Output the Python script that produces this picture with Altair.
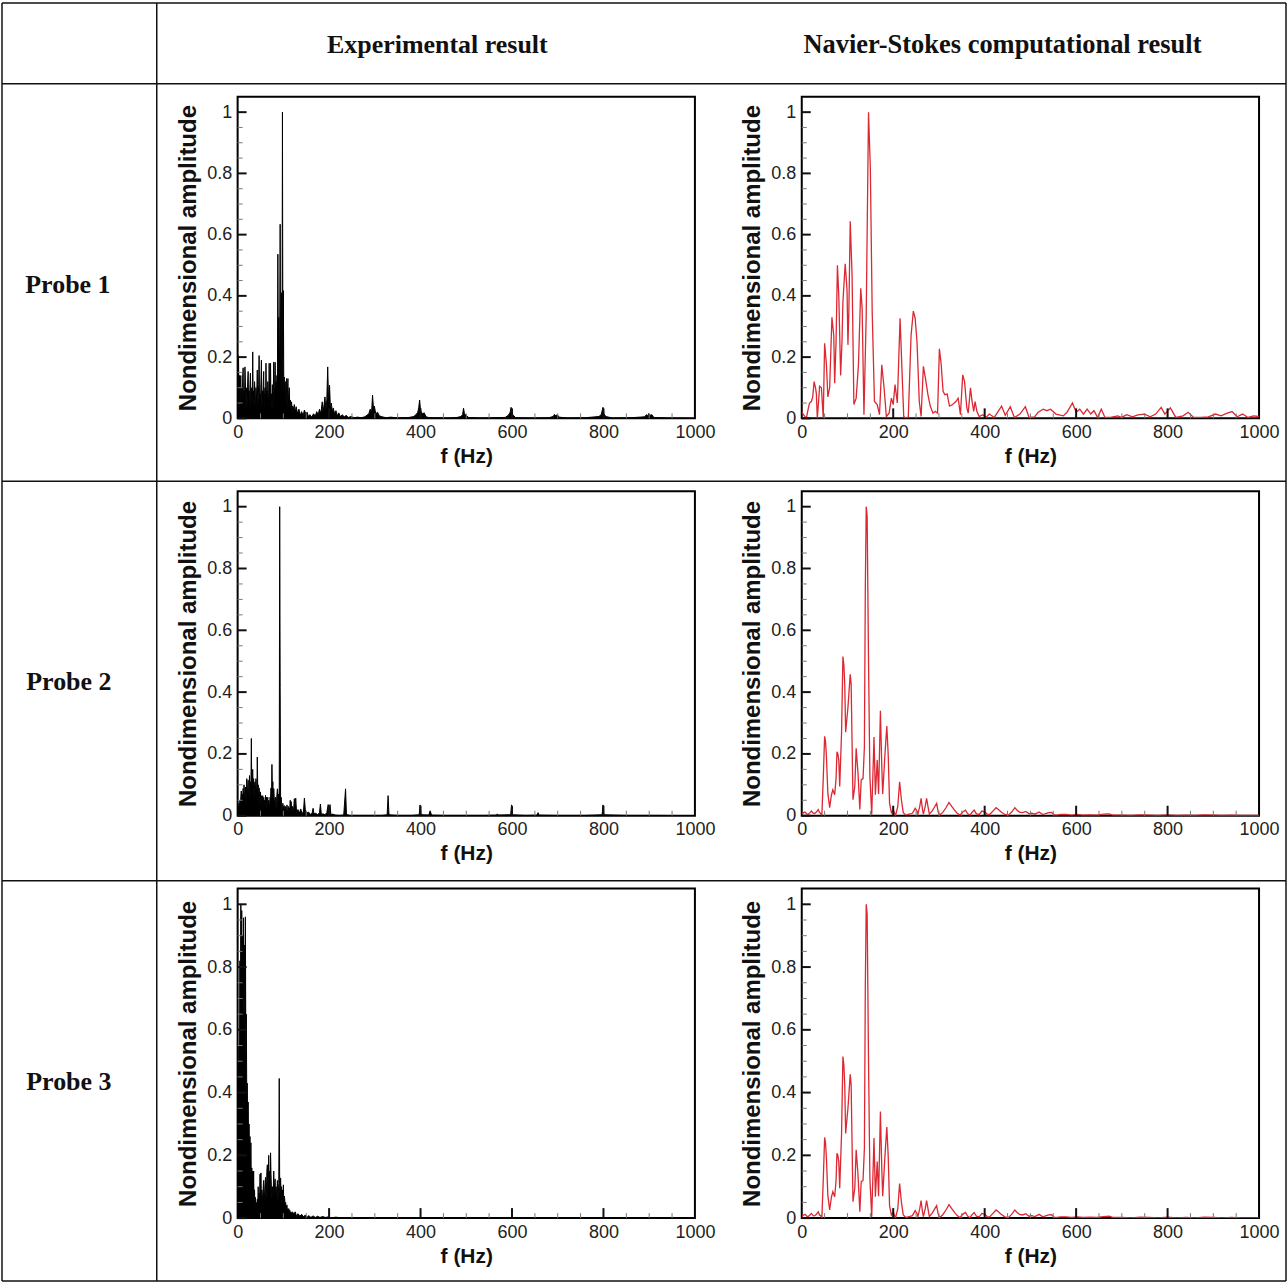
import altair as alt
import pandas as pd

# ---------------- data ----------------
ROW_LABELS = ["Probe 1", "Probe 2", "Probe 3"]
COL_LABELS = ["Experimental result", "Navier-Stokes computational result"]

X_MAJOR = [0, 200, 400, 600, 800, 1000]
X_MINOR = [50, 100, 150, 250, 300, 350, 450, 500, 550, 650, 700, 750, 850, 900, 950]
Y_MAJOR = [0, 0.2, 0.4, 0.6, 0.8, 1.0]
Y_MINOR = [0.05, 0.1, 0.15, 0.25, 0.3, 0.35, 0.45, 0.5, 0.55, 0.65, 0.7, 0.75, 0.85, 0.9, 0.95]

# experimental spectra: amplitudes on a 1 Hz grid from 0 to 120 Hz ...
P1_EXP_LOW = [0.02, 0.12, 0.205, 0.05, 0.14, 0.03, 0.11, 0.14, 0.04, 0.10,
              0.06, 0.13, 0.165, 0.03, 0.09, 0.05, 0.168, 0.12, 0.02, 0.08,
              0.10, 0.03, 0.12, 0.153, 0.05, 0.09, 0.02, 0.11, 0.148, 0.04,
              0.07, 0.10, 0.05, 0.217, 0.06, 0.09, 0.03, 0.12, 0.08, 0.02,
              0.10, 0.06, 0.09, 0.158, 0.03, 0.07, 0.11, 0.205, 0.04, 0.08,
              0.05, 0.12, 0.19, 0.03, 0.09, 0.06, 0.11, 0.153, 0.02, 0.08,
              0.10, 0.04, 0.18, 0.06, 0.09, 0.03, 0.12, 0.07, 0.04, 0.18,
              0.05, 0.10, 0.18, 0.03, 0.08, 0.05, 0.11, 0.02, 0.09, 0.184,
              0.04, 0.10, 0.183, 0.06, 0.12, 0.08, 0.14, 0.10, 0.536, 0.15,
              0.33, 0.12, 0.25, 0.634, 0.10, 0.30, 0.41, 0.06, 1.0, 0.20,
              0.417, 0.08, 0.135, 0.05, 0.12, 0.04, 0.10, 0.13, 0.03, 0.09,
              0.13, 0.04, 0.08, 0.10, 0.03, 0.06, 0.05, 0.02, 0.054, 0.02, 0.04]
# ... and (f, amplitude) points above 120 Hz
P1_EXP_TAIL = [(122, 0.03), (124, 0.045), (126, 0.02), (128, 0.038), (131, 0.015), (134, 0.03),
               (137, 0.01), (140, 0.022), (143, 0.008), (146, 0.027), (149, 0.015), (152, 0.02),
               (155, 0.005), (158, 0.012), (162, 0.004), (166, 0.015), (170, 0.008), (173, 0.022),
               (176, 0.01), (179, 0.03), (182, 0.015), (185, 0.054), (187, 0.02), (189, 0.045),
               (191, 0.07), (193, 0.03), (195, 0.06), (197, 0.168), (199, 0.05), (201, 0.108),
               (203, 0.03), (205, 0.05), (207, 0.02), (209, 0.034), (212, 0.015), (215, 0.025),
               (218, 0.008), (221, 0.018), (225, 0.005), (229, 0.012), (233, 0.004), (237, 0.01),
               (242, 0.003), (248, 0.006), (255, 0.002), (262, 0.004), (270, 0.002), (278, 0.005),
               (283, 0.01), (287, 0.016), (290, 0.03), (293, 0.02), (295, 0.076), (297, 0.035),
               (299, 0.04), (302, 0.015), (306, 0.02), (310, 0.008), (316, 0.005), (325, 0.002),
               (335, 0.004), (345, 0.002), (360, 0.002), (375, 0.003), (385, 0.006), (390, 0.012),
               (394, 0.02), (396, 0.035), (398, 0.06), (400, 0.025), (402, 0.02), (405, 0.015),
               (408, 0.018), (412, 0.005), (420, 0.002), (440, 0.002), (460, 0.001), (480, 0.003),
               (488, 0.006), (492, 0.012), (494, 0.033), (496, 0.015), (500, 0.01), (505, 0.003),
               (530, 0.001), (560, 0.002), (585, 0.003), (592, 0.01), (596, 0.02), (598, 0.036),
               (600, 0.015), (603, 0.01), (608, 0.002), (640, 0.001), (680, 0.002), (690, 0.006),
               (693, 0.013), (696, 0.008), (699, 0.012), (703, 0.004), (720, 0.001), (760, 0.002),
               (790, 0.006), (795, 0.012), (799, 0.036), (801, 0.015), (805, 0.006), (820, 0.001),
               (860, 0.002), (890, 0.005), (894, 0.012), (897, 0.008), (899, 0.016), (903, 0.01),
               (906, 0.012), (910, 0.003), (940, 0.001), (970, 0.001), (1000, 0.0)]

P2_EXP_LOW = [0.01, 0.03, 0.015, 0.04, 0.02, 0.05, 0.03, 0.06, 0.08, 0.03,
              0.07, 0.04, 0.088, 0.05, 0.10, 0.04, 0.07, 0.093, 0.03, 0.08,
              0.12, 0.05, 0.09, 0.115, 0.04, 0.10, 0.13, 0.06, 0.11, 0.08,
              0.25, 0.07, 0.13, 0.15, 0.09, 0.12, 0.05, 0.10, 0.11, 0.06,
              0.12, 0.09, 0.05, 0.19, 0.08, 0.10, 0.04, 0.09, 0.06, 0.03,
              0.077, 0.04, 0.065, 0.03, 0.06, 0.065, 0.02, 0.06, 0.04, 0.05,
              0.03, 0.066, 0.04, 0.06, 0.02, 0.05, 0.06, 0.03, 0.05, 0.02,
              0.04, 0.06, 0.05, 0.09, 0.03, 0.166, 0.08, 0.11, 0.04, 0.088,
              0.06, 0.03, 0.05, 0.06, 0.02, 0.045, 0.07, 0.087, 0.03, 0.07,
              0.05, 0.09, 1.0, 0.415, 0.03, 0.06, 0.044, 0.02, 0.03, 0.04,
              0.015, 0.03, 0.033, 0.01, 0.025, 0.03, 0.012, 0.02, 0.035, 0.01,
              0.02, 0.03, 0.01, 0.025, 0.02, 0.05, 0.01, 0.046, 0.02, 0.015, 0.03]
P2_EXP_TAIL = [(122, 0.01), (124, 0.055), (126, 0.015), (127, 0.057), (129, 0.01), (132, 0.02),
               (135, 0.008), (138, 0.022), (141, 0.006), (144, 0.015), (146, 0.057), (148, 0.02),
               (151, 0.008), (155, 0.012), (159, 0.004), (163, 0.01), (165, 0.024), (167, 0.006),
               (171, 0.008), (175, 0.003), (179, 0.01), (181, 0.038), (183, 0.005), (187, 0.006),
               (191, 0.003), (195, 0.01), (198, 0.036), (200, 0.01), (202, 0.036), (204, 0.004),
               (208, 0.005), (214, 0.002), (222, 0.001), (232, 0.002), (236, 0.087), (238, 0.004),
               (245, 0.001), (260, 0.001), (290, 0.001), (315, 0.001), (327, 0.003), (329, 0.065),
               (331, 0.003), (350, 0.001), (380, 0.001), (397, 0.003), (399, 0.035), (401, 0.003),
               (418, 0.002), (421, 0.016), (424, 0.002), (450, 0.001), (500, 0.001), (540, 0.001),
               (566, 0.002), (568, 0.006), (570, 0.002), (597, 0.003), (599, 0.035), (601, 0.003),
               (630, 0.001), (655, 0.002), (657, 0.01), (659, 0.002), (700, 0.001), (760, 0.001),
               (797, 0.003), (799, 0.035), (801, 0.003), (850, 0.001), (920, 0.001), (1000, 0.0)]

P3_EXP_LOW = [0.05, 0.50, 0.30, 0.55, 0.40, 0.82, 0.55, 1.0, 0.62, 0.98,
              0.655, 0.90, 0.60, 0.957, 0.70, 0.87, 0.62, 0.96, 0.50, 0.65,
              0.38, 0.43, 0.30, 0.37, 0.22, 0.30, 0.18, 0.26, 0.14, 0.24,
              0.10, 0.16, 0.08, 0.15, 0.05, 0.15, 0.04, 0.09, 0.02, 0.066,
              0.03, 0.05, 0.02, 0.06, 0.04, 0.10, 0.03, 0.08, 0.05, 0.14,
              0.06, 0.144, 0.03, 0.09, 0.07, 0.04, 0.10, 0.12, 0.05, 0.08,
              0.11, 0.13, 0.06, 0.09, 0.15, 0.17, 0.08, 0.12, 0.20, 0.10,
              0.15, 0.07, 0.208, 0.14, 0.09, 0.06, 0.10, 0.05, 0.09, 0.15,
              0.07, 0.11, 0.125, 0.05, 0.10, 0.06, 0.09, 0.12, 0.05, 0.08,
              0.11, 0.445, 0.10, 0.07, 0.128, 0.06, 0.10, 0.04, 0.09, 0.05,
              0.106, 0.04, 0.07, 0.06, 0.03, 0.05, 0.02, 0.04, 0.042, 0.015,
              0.03, 0.02, 0.03, 0.01, 0.025, 0.015, 0.02, 0.008, 0.018, 0.01, 0.02]
P3_EXP_TAIL = [(123, 0.012), (126, 0.02), (129, 0.005), (132, 0.014), (136, 0.006), (140, 0.012),
               (144, 0.004), (148, 0.01), (152, 0.003), (156, 0.008), (160, 0.002), (165, 0.007),
               (170, 0.002), (175, 0.006), (180, 0.002), (186, 0.005), (192, 0.002), (198, 0.004),
               (205, 0.001), (215, 0.003), (225, 0.001), (240, 0.002), (260, 0.0), (1000, 0.0)]

# Navier-Stokes computed spectra: (f, amplitude)
NS_P1 = [(0, 0.02), (5, 0.01), (10, 0.0), (14, 0.03), (17, 0.05), (21, 0.055), (24, 0.07),
         (27, 0.12), (30, 0.10), (32, 0.08), (34, 0.0), (37, 0.06), (39, 0.105), (43, 0.10),
         (47, 0.0), (50, 0.245), (54, 0.175), (57, 0.07), (61, 0.10), (66, 0.33), (70, 0.27),
         (72, 0.115), (75, 0.25), (78, 0.50), (81, 0.40), (85, 0.14), (88, 0.25), (90, 0.38),
         (95, 0.505), (99, 0.42), (101, 0.24), (103, 0.35), (106, 0.644), (110, 0.47),
         (114, 0.045), (119, 0.066), (124, 0.175), (129, 0.425), (132, 0.36), (136, 0.012),
         (141, 0.34), (146, 1.0), (150, 0.815), (154, 0.35), (159, 0.055), (165, 0.045),
         (170, 0.012), (175, 0.175), (180, 0.10), (185, 0.006), (191, 0.017), (196, 0.066),
         (200, 0.045), (204, 0.11), (209, 0.05), (215, 0.327), (219, 0.164), (223, 0.006),
         (228, 0.0), (233, 0.005), (239, 0.27), (244, 0.35), (248, 0.327), (252, 0.25),
         (257, 0.055), (261, 0.006), (266, 0.17), (271, 0.126), (276, 0.077), (281, 0.04),
         (287, 0.017), (292, 0.023), (297, 0.017), (301, 0.227), (305, 0.175), (309, 0.088),
         (313, 0.077), (318, 0.08), (323, 0.04), (330, 0.045), (337, 0.055), (342, 0.066),
         (347, 0.012), (352, 0.142), (356, 0.12), (361, 0.034), (364, 0.017), (369, 0.10),
         (372, 0.06), (376, 0.023), (379, 0.055), (383, 0.023), (388, 0.006), (396, 0.012),
         (403, 0.003), (410, 0.014), (421, 0.003), (437, 0.04), (445, 0.01), (456, 0.038),
         (465, 0.003), (477, 0.014), (489, 0.038), (497, 0.003), (509, 0.005), (517, 0.02),
         (528, 0.03), (536, 0.025), (544, 0.03), (556, 0.014), (572, 0.008), (580, 0.02),
         (592, 0.05), (600, 0.02), (608, 0.03), (616, 0.014), (624, 0.03), (632, 0.014),
         (639, 0.025), (647, 0.003), (655, 0.03), (663, 0.003), (675, 0.003), (691, 0.008),
         (699, 0.003), (711, 0.012), (723, 0.005), (735, 0.011), (750, 0.014), (762, 0.005),
         (774, 0.014), (786, 0.036), (794, 0.014), (806, 0.034), (818, 0.003), (834, 0.008),
         (845, 0.02), (857, 0.003), (873, 0.003), (889, 0.005), (905, 0.014), (917, 0.008),
         (929, 0.016), (941, 0.022), (952, 0.005), (964, 0.014), (976, 0.003), (988, 0.008),
         (1000, 0.006)]

NS_P2 = [(0, 0.005), (4, 0.01), (7, 0.012), (11, 0.006), (14, 0.005), (18, 0.01), (21, 0.015),
         (25, 0.008), (28, 0.007), (32, 0.012), (36, 0.02), (39, 0.01), (41, 0.008), (44, 0.002),
         (47, 0.12), (50, 0.257), (52, 0.24), (54, 0.19), (57, 0.074), (61, 0.026), (65, 0.068),
         (68, 0.084), (72, 0.068), (75, 0.12), (77, 0.207), (79, 0.2), (81, 0.18), (83, 0.095),
         (87, 0.266), (90, 0.515), (92, 0.49), (94, 0.426), (96, 0.27), (101, 0.35), (106, 0.458),
         (108, 0.426), (112, 0.052), (116, 0.095), (119, 0.218), (123, 0.138), (127, 0.02),
         (130, 0.116), (134, 0.12), (137, 0.223), (139, 0.736), (141, 1.0), (143, 0.97),
         (146, 0.5), (149, 0.127), (153, 0.004), (158, 0.255), (161, 0.068), (165, 0.18),
         (168, 0.07), (172, 0.34), (175, 0.16), (177, 0.07), (182, 0.2), (186, 0.29), (189, 0.2),
         (192, 0.04), (196, 0.01), (200, 0.02), (205, 0.0), (210, 0.03), (214, 0.11), (218, 0.05),
         (222, 0.01), (228, 0.002), (235, 0.005), (242, 0.008), (248, 0.024), (252, 0.015),
         (254, 0.005), (258, 0.03), (261, 0.056), (264, 0.02), (266, 0.005), (270, 0.03),
         (273, 0.056), (276, 0.03), (279, 0.005), (285, 0.015), (291, 0.03), (295, 0.04),
         (298, 0.015), (301, 0.002), (308, 0.01), (315, 0.025), (322, 0.043), (328, 0.03),
         (334, 0.018), (340, 0.008), (346, 0.002), (352, 0.012), (358, 0.018), (363, 0.006),
         (368, 0.002), (373, 0.012), (377, 0.018), (382, 0.006), (388, 0.004), (394, 0.015),
         (401, 0.012), (406, 0.004), (411, 0.004), (418, 0.015), (425, 0.026), (430, 0.02),
         (436, 0.012), (444, 0.004), (452, 0.002), (459, 0.012), (466, 0.026), (471, 0.018),
         (476, 0.012), (483, 0.01), (490, 0.014), (497, 0.006), (503, 0.008), (510, 0.005),
         (519, 0.012), (527, 0.004), (535, 0.008), (540, 0.01), (546, 0.011), (552, 0.003),
         (558, 0.002), (566, 0.004), (578, 0.004), (590, 0.002), (602, 0.004), (615, 0.002),
         (630, 0.003), (645, 0.002), (660, 0.005), (672, 0.006), (680, 0.002), (700, 0.002),
         (720, 0.001), (740, 0.003), (760, 0.002), (780, 0.001), (800, 0.003), (820, 0.001),
         (840, 0.002), (860, 0.001), (880, 0.003), (900, 0.002), (920, 0.001), (940, 0.002),
         (960, 0.001), (980, 0.001), (1000, 0.001)]
NS_P3 = NS_P2  # the computed spectra for probes 2 and 3 are identical in the reference

# ---------------- styling ----------------
SANS = "Liberation Sans"
SERIF = "Liberation Serif"
RED = "#dc2832"
PLOT_W = 458
ROW_H = [322, 325, 330]
LABEL_W = 130
HEADER_H = 22


def exp_frame(low, tail):
    f = list(range(len(low))) + [p[0] for p in tail]
    a = list(low) + [p[1] for p in tail]
    return pd.DataFrame({"f": f, "a": a})


def pair_frame(pairs):
    return pd.DataFrame({"f": [p[0] for p in pairs], "a": [p[1] for p in pairs]})


ONE = pd.DataFrame({"k": [0]})


def panel(df, color, h, width, filled):
    xs = alt.Scale(domain=[0, 1000], nice=False, zero=False)
    ys = alt.Scale(domain=[0, 1.05], nice=False, zero=False)
    x_enc = alt.X("f:Q", scale=xs, axis=alt.Axis(
        orient="bottom", values=X_MAJOR, format="d", title="f (Hz)", ticks=False,
        domain=False, grid=False,
        labelFont=SANS, labelFontSize=18, labelColor="#222", labelPadding=5,
        labelFlush=False, labelOverlap=False,
        titleFont=SANS, titleFontSize=21, titleFontWeight="bold", titleColor="#111",
        titlePadding=4))
    y_enc = alt.Y("a:Q", scale=ys, axis=alt.Axis(
        orient="left", values=Y_MAJOR, format=".1~f", title="Nondimensional amplitude",
        ticks=False, domain=False, grid=False,
        labelFont=SANS, labelFontSize=18, labelColor="#222", labelPadding=6,
        labelOverlap=False,
        titleFont=SANS, titleFontSize=24, titleFontWeight="bold", titleColor="#111",
        titlePadding=6))
    line = alt.Chart(df).mark_line(color=color, strokeWidth=width, clip=True).encode(
        x=x_enc, y=y_enc)
    layers = [line]
    if filled:
        area = alt.Chart(df).mark_area(color=color, opacity=1, clip=True).encode(
            x=alt.X("f:Q", scale=xs, axis=None), y=alt.Y("a:Q", scale=ys, axis=None))
        layers.append(area)
    ymaj = alt.Chart(pd.DataFrame({"v": Y_MAJOR})).mark_rule(color="#111", strokeWidth=2).encode(
        y=alt.Y("v:Q", scale=ys, axis=None), x=alt.value(0), x2=alt.value(9))
    ymin = alt.Chart(pd.DataFrame({"v": Y_MINOR})).mark_rule(color="#777", strokeWidth=1).encode(
        y=alt.Y("v:Q", scale=ys, axis=None), x=alt.value(0), x2=alt.value(5))
    xmaj = alt.Chart(pd.DataFrame({"v": X_MAJOR[1:-1]})).mark_rule(color="#111", strokeWidth=2).encode(
        x=alt.X("v:Q", scale=xs, axis=None), y=alt.value(h), y2=alt.value(h - 10))
    xmin = alt.Chart(pd.DataFrame({"v": X_MINOR})).mark_rule(color="#777", strokeWidth=1).encode(
        x=alt.X("v:Q", scale=xs, axis=None), y=alt.value(h), y2=alt.value(h - 5))
    layers += [ymaj, ymin, xmaj, xmin]
    return alt.layer(*layers).resolve_axis(x="independent", y="independent").properties(
        width=PLOT_W, height=h)


def rule(x1, x2, y1, y2):
    return alt.Chart(ONE).mark_rule(color="#111", strokeWidth=1.5).encode(
        x=alt.value(x1), x2=alt.value(x2), y=alt.value(y1), y2=alt.value(y2))


def text_cell(label, x, y, w, h, size=26):
    return alt.Chart(pd.DataFrame({"t": [label]})).mark_text(
        font=SERIF, fontSize=size, fontWeight="bold", color="#111", align="center",
        baseline="middle").encode(x=alt.value(x), y=alt.value(y), text="t:N").properties(
        width=w, height=h, view=alt.ViewBackground(stroke="transparent"))


# table grid (page coordinates, drawn from the top-left cell)
grid = alt.layer(
    rule(1, 1287, 1, 1),
    rule(1, 1287, 82, 82),
    rule(1, 1287, 480, 480),
    rule(1, 1287, 880, 880),
    rule(1, 1287, 1281, 1281),
    rule(1, 1, 1, 1281),
    rule(156, 156, 1, 1281),
    rule(1287, 1287, 1, 1281),
).properties(width=LABEL_W, height=HEADER_H, view=alt.ViewBackground(stroke="transparent"))

cells = [
    grid,
    text_cell(COL_LABELS[0], 200, 43, PLOT_W, HEADER_H),
    text_cell(COL_LABELS[1], 201, 43, PLOT_W, HEADER_H, 26.5),
    text_cell(ROW_LABELS[0], 67, 188, LABEL_W, ROW_H[0]),
    panel(exp_frame(P1_EXP_LOW, P1_EXP_TAIL), "black", ROW_H[0], 1, True),
    panel(pair_frame(NS_P1), RED, ROW_H[0], 1.3, False),
    text_cell(ROW_LABELS[1], 68, 191, LABEL_W, ROW_H[1]),
    panel(exp_frame(P2_EXP_LOW, P2_EXP_TAIL), "black", ROW_H[1], 1, True),
    panel(pair_frame(NS_P2), RED, ROW_H[1], 1.3, False),
    text_cell(ROW_LABELS[2], 68, 194, LABEL_W, ROW_H[2]),
    panel(exp_frame(P3_EXP_LOW, P3_EXP_TAIL), "black", ROW_H[2], 1, True),
    panel(pair_frame(NS_P3), RED, ROW_H[2], 1.3, False),
]

chart = alt.concat(
    *cells, columns=3, spacing={"row": 73, "column": 107}, bounds="flush", align="each"
).properties(padding=0).configure_view(stroke="black", strokeWidth=2)

chart.save("out.html", embed_options={"renderer": "svg", "actions": False})
